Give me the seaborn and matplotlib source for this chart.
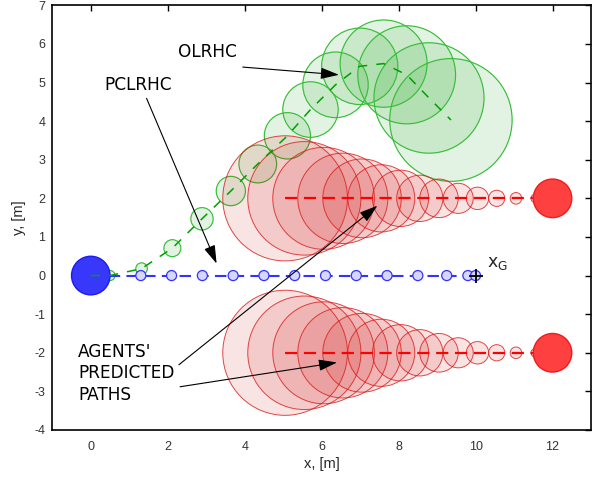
import matplotlib
matplotlib.use("Agg")
import matplotlib.pyplot as plt
from matplotlib.patches import Circle
import seaborn as sns
import numpy as np

# ---------------- data ----------------
# robot (blue) start and goal
robot_x, robot_y, robot_r = 0.0, 0.0, 0.5
goal_x, goal_y = 10.0, 0.0

# PCLRHC planned path (blue)
pcl_x = [1.3, 2.1, 2.9, 3.7, 4.5, 5.3, 6.1, 6.9, 7.7, 8.5, 9.25, 9.8, 10.0]
pcl_y = [0.0] * 13
pcl_r = [0.13] * 13

# OLRHC planned path (green)
ol_x = [0.5, 1.32, 2.12, 2.89, 3.64, 4.34, 5.11, 5.71, 6.36, 6.99, 7.61, 8.21, 8.79, 9.36]
ol_y = [0.0, 0.18, 0.71, 1.47, 2.19, 2.89, 3.62, 4.30, 4.94, 5.42, 5.49, 5.20, 4.60, 4.03]
ol_r = [0.13, 0.15, 0.22, 0.29, 0.38, 0.49, 0.60, 0.72, 0.85, 0.99, 1.13, 1.27, 1.43, 1.59]

# agents (red)
agent_x = [12.0, 12.0]
agent_y = [2.0, -2.0]
agent_r = 0.5
pred_x = [5.05, 5.55, 6.05, 6.55, 7.05, 7.55, 8.05, 8.55, 9.05, 9.55, 10.05, 10.55, 11.05, 11.55]
pred_r = [1.62, 1.47, 1.32, 1.17, 1.02, 0.87, 0.73, 0.60, 0.50, 0.39, 0.29, 0.21, 0.15, 0.11]

x_ticks = [0, 2, 4, 6, 8, 10, 12]
y_ticks = [-4, -3, -2, -1, 0, 1, 2, 3, 4, 5, 6, 7]

# ---------------- style ----------------
sns.set_style("white")
plt.rcParams['font.family'] = ['DejaVu Sans']

fig = plt.figure(figsize=(6.03, 4.79), dpi=100)
ax = fig.add_axes([52.3 / 603, 49 / 479, (591 - 52.3) / 603, (430 - 5.3) / 479])

RED_FILL = (0.8, 0.0, 0.0)
RED_EDGE = (0.86, 0.1, 0.1)
GREEN_FILL = (0.0, 0.6, 0.0)
GREEN_EDGE = (0.22, 0.74, 0.22)
BLUE = (0.2, 0.2, 1.0)

# green circles (OLRHC)
for x, y, r in zip(ol_x, ol_y, ol_r):
    ax.add_patch(Circle((x, y), r, facecolor=GREEN_FILL, alpha=0.11, edgecolor='none', zorder=2))
    ax.add_patch(Circle((x, y), r, facecolor='none', edgecolor=GREEN_EDGE, lw=0.85, zorder=2.1))

# red predicted circles
for ay in agent_y:
    for x, r in zip(pred_x, pred_r):
        ax.add_patch(Circle((x, ay), r, facecolor=RED_FILL, alpha=0.105, edgecolor='none', zorder=2.2))
        ax.add_patch(Circle((x, ay), r, facecolor='none', edgecolor=RED_EDGE, lw=0.7, alpha=0.8, zorder=2.3))

# red dashed predicted paths
for ay in agent_y:
    sns.lineplot(x=pred_x + [12.0], y=[ay] * (len(pred_x) + 1), ax=ax, color=(1.0, 0.0, 0.0),
                 lw=1.6, linestyle=(0, (5.5, 3)), sort=False, estimator=None, zorder=3)

# red agents
for ax_, ay in zip(agent_x, agent_y):
    ax.add_patch(Circle((ax_, ay), agent_r, facecolor=(1.0, 0.25, 0.25), edgecolor=(0.95, 0.1, 0.1),
                        lw=1.0, zorder=4))

# blue planned path
sns.lineplot(x=[robot_x] + pcl_x, y=[robot_y] + pcl_y, ax=ax, color=BLUE, lw=1.5,
             linestyle=(0, (5.5, 3)), sort=False, estimator=None, zorder=3)
for x, y, r in zip(pcl_x, pcl_y, pcl_r):
    ax.add_patch(Circle((x, y), r, facecolor=(0.84, 0.84, 1.0), edgecolor=BLUE, lw=0.9, zorder=3.5))

# blue robot
ax.add_patch(Circle((robot_x, robot_y), robot_r, facecolor=(0.22, 0.22, 0.98), edgecolor=(0.1, 0.1, 0.95),
                    lw=1.0, zorder=4))

# green dashed path
sns.lineplot(x=[robot_x] + ol_x, y=[robot_y] + ol_y, ax=ax, color=(0.0, 0.62, 0.0), lw=1.1,
             linestyle=(0, (6, 6)), sort=False, estimator=None, zorder=5)

# goal marker
sns.scatterplot(x=[goal_x], y=[goal_y], ax=ax, marker='+', color='black', s=90, linewidth=1.3, zorder=6)
ax.text(10.29, 0.32, r"x$_\mathregular{G}$", fontsize=12.5, ha='left', va='center', zorder=7)

# annotations
TXT = dict(fontsize=12.2, color='black', zorder=8)
ax.text(3.03, 5.80, "OLRHC", ha='center', va='center', **TXT)
ax.text(1.23, 4.93, "PCLRHC", ha='center', va='center', **TXT)
ax.text(-0.33, -2.53, "AGENTS'\nPREDICTED\nPATHS", ha='left', va='center', linespacing=1.25, **TXT)

arrow = dict(arrowstyle='-|>,head_length=0.8,head_width=0.25', color='black', lw=0.8,
             shrinkA=0, shrinkB=0, mutation_scale=14)
for start, tip in [((3.95, 5.40), (6.45, 5.20)),
                   ((1.45, 4.59), (3.27, 0.31)),
                   ((2.29, -2.31), (7.45, 1.81)),
                   ((2.32, -2.88), (6.40, -2.25))]:
    ax.annotate('', xy=tip, xytext=start, arrowprops=arrow, zorder=8)

# axes
ax.set_xlim(-1, 13)
ax.set_ylim(-4, 7)
ax.set_xticks(x_ticks)
ax.set_yticks(y_ticks)
ax.set_xticklabels([str(t) for t in x_ticks], family='Liberation Sans', fontsize=9, color='#333333')
ax.set_yticklabels([str(t) for t in y_ticks], family='Liberation Sans', fontsize=9, color='#333333')
ax.tick_params(axis='both', direction='in', length=4, width=1.0, top=True, right=True, color='black')
ax.tick_params(axis='x', pad=8)
ax.tick_params(axis='y', pad=5)
for s in ax.spines.values():
    s.set_visible(True)
    s.set_color('black')
    s.set_linewidth(1.2)
ax.set_xlabel("x, [m]", family='Liberation Sans', fontsize=10.5, labelpad=3)
ax.set_ylabel("y, [m]", family='Liberation Sans', fontsize=10.5, labelpad=6)

fig.savefig("out.png", dpi=100)
